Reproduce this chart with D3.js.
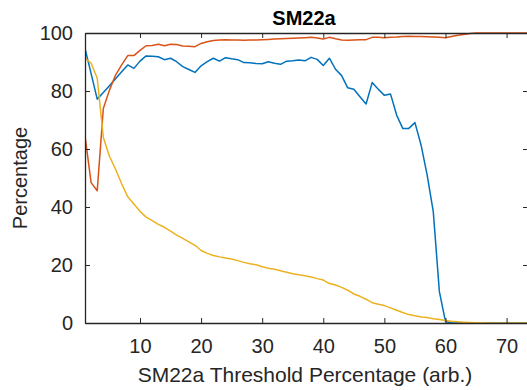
<!DOCTYPE html>
<html>
<head>
<meta charset="utf-8">
<script src="https://cdn.jsdelivr.net/npm/d3@7"></script>
<style>
  body { margin: 0; background: #fff; }
  svg { display: block; font-family: "Liberation Sans", Arial, Helvetica, sans-serif; }
</style>
</head>
<body>
<svg id="chart"></svg>
<script>
// threshold percentages (x)
const thresholds = [1,2,3,4,5,6,7,8,9,10,11,12,13,14,15,16,17,18,19,20,
  21,22,23,24,25,26,27,28,29,30,31,32,33,34,35,36,37,38,39,40,
  41,42,43,44,45,46,47,48,49,50,51,52,53,54,55,56,57,58,59,60,
  61,62,63,64,65,66,67,68,69,70,71,72,73,74];

const blueSeries = [94.7,86,77.2,79.5,81.8,84.2,86.6,89,87.8,90.3,92.1,92,91.8,90.8,91.3,90.1,88.4,87.4,86.4,88.7,
  90.1,91.3,90.3,91.5,91.1,90.8,89.8,89.7,89.5,89.4,90.1,89.6,89.2,90.3,90.4,90.7,90.4,91.6,90.9,88.8,
  91.3,87.5,85.3,81.1,80.6,78,75.5,82.9,80.6,78.5,79,71.7,67.1,67.1,69.1,61.4,51,38.4,10.8,0.5,
  0,0,0,0,0,0,0,0,0,0,0,0,0,0];

const redSeries = [64.5,48.4,45.6,74,80.3,85.5,89,92.2,92.2,94,95.6,95.7,96.1,95.6,96.1,96,95.5,95.4,95.3,96.4,
  97,97.4,97.6,97.7,97.6,97.6,97.5,97.6,97.6,97.7,97.8,97.9,98,98.1,98.2,98.3,98.4,98.5,98.3,97.9,
  98.5,98,97.6,97.5,97.6,97.7,97.7,98.5,98.5,98.4,98.5,98.6,98.8,98.9,98.8,98.8,98.7,98.6,98.5,98.4,
  98.8,99.2,99.5,99.8,100,100,100,100,100,100,100,100,100,100];

const yellowSeries = [91.3,89.6,84.4,64,57.5,53,48,43.5,41,38.5,36.5,35.3,34,33,31.7,30.3,29.2,28,26.8,25,
  24,23.3,22.8,22.4,22.1,21.5,20.9,20.4,20.1,19.4,18.9,18.5,18,17.5,17,16.6,16.3,15.9,15.3,14.8,
  13.6,13.1,12.3,11.3,10,9.2,8.2,7,6.5,6,5.2,4.4,3.6,2.9,2.5,2.1,1.9,1.5,1.2,0.9,
  0.6,0.4,0.3,0.2,0.1,0.1,0,0,0,0,0,0,0,0];

const xTicks = [10, 20, 30, 40, 50, 60, 70];
const yTicks = [0, 20, 40, 60, 80, 100];

const width = 527, height = 390;
const marginLeft = 85, marginTop = 33, plotRight = 528, plotBottom = 323;
const axisColor = '#262626';

const svg = d3.select('#chart')
  .attr('width', width)
  .attr('height', height);

const x = d3.scaleLinear().domain([1, 1 + (plotRight - marginLeft) / 6.11]).range([marginLeft, plotRight]);
const y = d3.scaleLinear().domain([0, 100]).range([plotBottom, marginTop]);

svg.append('clipPath').attr('id', 'plotclip')
  .append('rect')
  .attr('x', marginLeft).attr('y', marginTop - 2)
  .attr('width', plotRight - marginLeft).attr('height', plotBottom - marginTop + 4);

// lines, plotted in MATLAB order so yellow sits on top
const series = [
  { values: blueSeries, color: '#0072BD' },
  { values: redSeries, color: '#D95319' },
  { values: yellowSeries, color: '#EDB120' }
];

const line = d3.line()
  .x((d) => x(d[0]))
  .y((d) => y(d[1]));

const lines = svg.append('g').attr('clip-path', 'url(#plotclip)');
series.forEach((s) => {
  lines.append('path')
    .datum(thresholds.map((t, i) => [t, s.values[i]]))
    .attr('fill', 'none')
    .attr('stroke', s.color)
    .attr('stroke-width', 1.5)
    .attr('stroke-linejoin', 'round')
    .attr('d', line);
});

// box axes
const bottomAxis = svg.append('g')
  .attr('transform', `translate(0,${plotBottom})`)
  .call(d3.axisBottom(x).tickValues(xTicks).tickSizeInner(-5).tickSizeOuter(0).tickPadding(16));
const topAxis = svg.append('g')
  .attr('transform', `translate(0,${marginTop})`)
  .call(d3.axisTop(x).tickValues(xTicks).tickSizeInner(-5).tickSizeOuter(0).tickFormat(''));
const leftAxis = svg.append('g')
  .attr('transform', `translate(${marginLeft},0)`)
  .call(d3.axisLeft(y).tickValues(yTicks).tickSizeInner(-5).tickSizeOuter(0).tickPadding(12));
const rightAxis = svg.append('g')
  .attr('transform', `translate(${plotRight},0)`)
  .call(d3.axisRight(y).tickValues(yTicks).tickSizeInner(-5).tickSizeOuter(0).tickFormat(''));

[bottomAxis, topAxis, leftAxis, rightAxis].forEach((g) => {
  g.select('.domain').attr('stroke', axisColor).attr('stroke-width', 1.3);
  g.selectAll('.tick line').attr('stroke', axisColor).attr('stroke-width', 1);
  g.selectAll('.tick text')
    .attr('fill', axisColor)
    .style('font-size', '20px')
    .style('font-family', '"Liberation Sans", Arial, sans-serif');
});

// title and labels
svg.append('text')
  .attr('x', 304).attr('y', 25)
  .attr('text-anchor', 'middle')
  .style('font-size', '20px')
  .style('font-weight', 'bold')
  .attr('fill', '#000')
  .text('SM22a');

svg.append('text')
  .attr('x', 305).attr('y', 382)
  .attr('text-anchor', 'middle')
  .style('font-size', '21px')
  .attr('fill', axisColor)
  .text('SM22a Threshold Percentage (arb.)');

svg.append('text')
  .attr('transform', `translate(27,${(marginTop + plotBottom) / 2}) rotate(-90)`)
  .attr('text-anchor', 'middle')
  .style('font-size', '20px')
  .attr('fill', axisColor)
  .text('Percentage');
</script>
</body>
</html>
